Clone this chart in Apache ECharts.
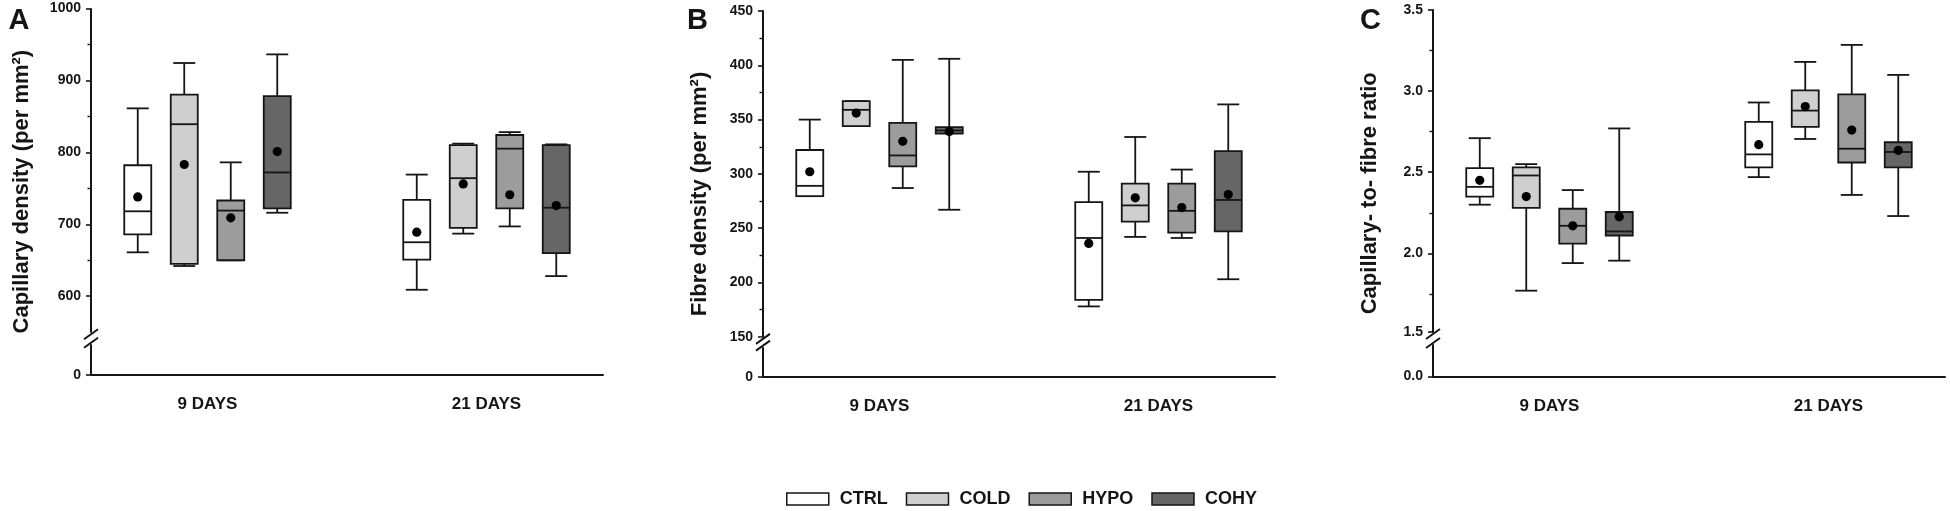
<!DOCTYPE html>
<html>
<head>
<meta charset="utf-8">
<script src="https://cdn.jsdelivr.net/npm/echarts@6/dist/echarts.min.js"></script>
<style>
html,body{margin:0;padding:0;background:#fff;}
#c{width:1950px;height:511px;}
</style>
</head>
<body>
<div id="c"></div>
<script>
// ---------- data ----------
const categories = ['9 DAYS', '21 DAYS'];
const groups = ['CTRL', 'COLD', 'HYPO', 'COHY'];
const fills = ['#ffffff', '#cfcfcf', '#9c9c9c', '#666666'];

// each row: [min, q1, median, q3, max, mean] for 9 DAYS and 21 DAYS
const capCTRL = [[661, 686, 718, 782, 861, 738], [609, 651, 675, 734, 769, 689]];
const capCOLD = [[642, 645, 839, 880, 924, 783], [687, 695, 764, 810, 812, 756]];
const capHYPO = [[650, 650, 719, 733, 786, 709], [697, 722, 805, 824, 828, 741]];
const capCOHY = [[716, 722, 772, 878, 936, 801], [628, 660, 723, 810, 811, 726]];

const fibCTRL = [[279.5, 279.5, 289, 322, 350, 302], [178, 184, 241, 274, 302, 236]];
const fibCOLD = [[344, 344, 359, 367, 367, 356], [242, 256, 271, 291, 334, 278]];
const fibHYPO = [[287, 307, 317, 347, 405, 330], [241, 246, 266, 291, 304, 269]];
const fibCOHY = [[267, 337, 340, 343, 406, 339], [203, 247, 276, 321, 364, 281]];

const ratCTRL = [[2.30, 2.35, 2.41, 2.525, 2.71, 2.45], [2.47, 2.53, 2.61, 2.81, 2.93, 2.67]];
const ratCOLD = [[1.77, 2.28, 2.48, 2.53, 2.55, 2.35], [2.705, 2.78, 2.88, 3.005, 3.18, 2.905]];
const ratHYPO = [[1.94, 2.06, 2.17, 2.275, 2.39, 2.17], [2.36, 2.56, 2.645, 2.98, 3.285, 2.76]];
const ratCOHY = [[1.955, 2.11, 2.135, 2.255, 2.77, 2.225], [2.23, 2.53, 2.625, 2.685, 3.10, 2.635]];

// tick values
const capTicks = [0, 600, 700, 800, 900, 1000];
const capMinor = [650, 750, 850, 950];
const fibTicks = [0, 150, 200, 250, 300, 350, 400, 450];
const fibMinor = [175, 225, 275, 325, 375, 425];
const ratTicks = [0, 1.5, 2.0, 2.5, 3.0, 3.5];
const ratMinor = [1.75, 2.25, 2.75, 3.25];

// axis breaks [start, end, gap]
const capBreak = [42, 550, 17.4];
const fibBreak = [27, 150, 10];
const ratBreak = [0.194, 1.515, 0.08];

const panels = [
  { letter: 'A', name: 'Capillary density (per mm\u00B2)', data: [capCTRL, capCOLD, capHYPO, capCOHY],
    min: 0, max: 1000, ticks: capTicks, minor: capMinor, brk: capBreak, fmt: v => String(v),
    grid: { left: 91, top: 8.3, width: 512, height: 366.7 }, nameGap: 58, letterX: 8.5 },
  { letter: 'B', name: 'Fibre density (per mm\u00B2)', data: [fibCTRL, fibCOLD, fibHYPO, fibCOHY],
    min: 0, max: 450, ticks: fibTicks, minor: fibMinor, brk: fibBreak, fmt: v => String(v),
    grid: { left: 763, top: 11, width: 512, height: 366 }, nameGap: 52, letterX: 687 },
  { letter: 'C', name: 'Capillary- to- fibre ratio', data: [ratCTRL, ratCOLD, ratHYPO, ratCOHY],
    min: 0, max: 3.5, ticks: ratTicks, minor: ratMinor, brk: ratBreak, fmt: v => v.toFixed(1),
    grid: { left: 1433, top: 10, width: 512, height: 366.5 }, nameGap: 52, letterX: 1360 }
];

const XMIN = 1 - 116.5 / 279, XMAX = 2 + 116.5 / 279;
const INK = '#151515';
const FONT = 'Liberation Sans, Arial, sans-serif';

const chart = echarts.init(document.getElementById('c'), null, { renderer: 'canvas' });

const grids = [], xAxes = [], yAxes = [], minorAxes = [], series = [], titles = [];
panels.forEach((p, pi) => {
  grids.push(p.grid);
  titles.push({ text: p.letter, left: p.letterX, top: 6, padding: 0,
    textStyle: { fontFamily: FONT, fontWeight: 'bold', fontSize: 29, color: INK } });
  xAxes.push({
    type: 'value', gridIndex: pi, min: XMIN, max: XMAX,
    axisLine: { show: true, lineStyle: { color: INK, width: 2 } },
    axisTick: { show: false }, splitLine: { show: false },
    axisLabel: { customValues: [1, 2], formatter: v => categories[Math.round(v) - 1] || '',
      margin: 21, fontFamily: FONT, fontWeight: 'bold', fontSize: 17, color: INK }
  });
  yAxes.push({
    type: 'value', gridIndex: pi, position: 'left', min: p.min, max: p.max,
    breaks: [{ start: p.brk[0], end: p.brk[1], gap: p.brk[2] }],
    breakArea: { show: false },
    name: p.name, nameLocation: 'middle', nameGap: p.nameGap,
    nameTextStyle: { fontFamily: FONT, fontWeight: 'bold', fontSize: 22, color: INK },
    axisLine: { show: true, lineStyle: { color: INK, width: 2 } },
    axisTick: { show: true, inside: false, length: 5, customValues: p.ticks, lineStyle: { color: INK, width: 1.6 } },
    axisLabel: { customValues: p.ticks, formatter: p.fmt, margin: 10,
      fontFamily: FONT, fontWeight: 'bold', fontSize: 14, color: INK },
    splitLine: { show: false }
  });
  minorAxes.push({
    type: 'value', gridIndex: pi, position: 'left', offset: 0, min: p.min, max: p.max,
    breaks: [{ start: p.brk[0], end: p.brk[1], gap: p.brk[2] }],
    breakArea: { show: false },
    axisLine: { show: false },
    axisTick: { show: true, inside: false, length: 3.5, customValues: p.minor, lineStyle: { color: INK, width: 1.4 } },
    axisLabel: { show: false },
    splitLine: { show: false }
  });
  p.data.forEach((arr, gi) => {
    const offset = (gi - 1.5) / 6;
    series.push({
      type: 'custom', name: groups[gi], xAxisIndex: pi, yAxisIndex: pi,
      itemStyle: { color: fills[gi], borderColor: INK, borderWidth: 1.5 },
      encode: { x: 0, y: [1, 2, 3, 4, 5, 6] },
      data: arr.map((r, ci) => [ci + 1].concat(r)),
      renderItem: function (params, api) {
        const x = api.value(0) + offset;
        const c = k => api.coord([x, api.value(k)]);
        const pMin = c(1), pQ1 = c(2), pMed = c(3), pQ3 = c(4), pMax = c(5), pMean = c(6);
        const cx = pMin[0], bw = 27, cw = 22;
        const ls = { stroke: INK, lineWidth: 1.8 };
        return { type: 'group', children: [
          { type: 'line', shape: { x1: cx, y1: pQ3[1], x2: cx, y2: pMax[1] }, style: ls },
          { type: 'line', shape: { x1: cx, y1: pQ1[1], x2: cx, y2: pMin[1] }, style: ls },
          { type: 'line', shape: { x1: cx - cw / 2, y1: pMax[1], x2: cx + cw / 2, y2: pMax[1] }, style: ls },
          { type: 'line', shape: { x1: cx - cw / 2, y1: pMin[1], x2: cx + cw / 2, y2: pMin[1] }, style: ls },
          { type: 'rect', shape: { x: cx - bw / 2, y: pQ3[1], width: bw, height: pQ1[1] - pQ3[1] },
            style: { fill: fills[gi], stroke: INK, lineWidth: 1.8 } },
          { type: 'line', shape: { x1: cx - bw / 2, y1: pMed[1], x2: cx + bw / 2, y2: pMed[1] }, style: ls },
          { type: 'circle', shape: { cx: cx, cy: pMean[1], r: 4.6 }, style: { fill: '#000' } }
        ] };
      }
    });
  });
});

const option = {
  animation: false,
  backgroundColor: '#fff',
  title: titles,
  grid: grids,
  xAxis: xAxes,
  yAxis: yAxes.concat(minorAxes),
  legend: {
    left: 781, top: 485, itemWidth: 42, itemHeight: 12, itemGap: 18, icon: 'rect',
    selectedMode: false,
    textStyle: { fontFamily: FONT, fontWeight: 'bold', fontSize: 18, color: INK, padding: [0, 0, 0, 6] },
    data: groups.map((g, gi) => ({ name: g, itemStyle: { color: fills[gi], borderColor: INK, borderWidth: 1.5 } }))
  },
  series: series
};
chart.setOption(option);

// break marks on the y axes
const gfx = [];
panels.forEach((p, pi) => {
  const up = chart.convertToPixel({ xAxisIndex: pi, yAxisIndex: pi }, [XMIN, p.brk[1]]);
  const lo = chart.convertToPixel({ xAxisIndex: pi, yAxisIndex: pi }, [XMIN, p.brk[0]]);
  if (!up || !lo) return;
  const x = up[0];
  const yU = up[1] + 2, yL = lo[1] - 2;
  gfx.push({ type: 'rect', shape: { x: x - 3, y: yU - 1, width: 6, height: yL - yU + 2 }, style: { fill: '#fff' }, z: 100 });
  [yU, yL].forEach(y => {
    gfx.push({ type: 'line', shape: { x1: x - 7, y1: y + 5, x2: x + 7, y2: y - 5 },
      style: { stroke: INK, lineWidth: 2 }, z: 101 });
  });
});
chart.setOption({ graphic: gfx });
</script>
</body>
</html>
